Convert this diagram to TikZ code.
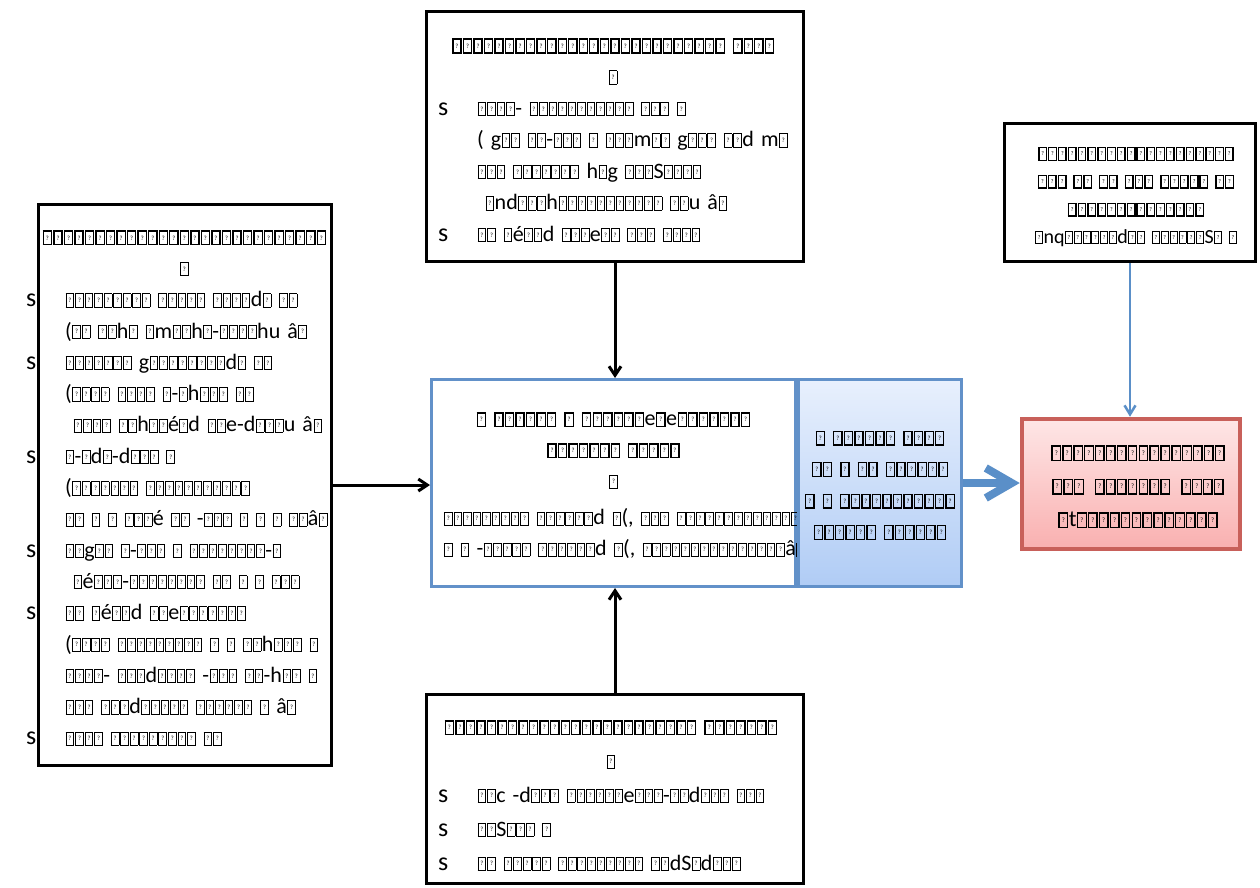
\documentclass[tikz,border=0pt]{standalone}
\usepackage{fontspec}
\setmainfont{Carlito}
\usetikzlibrary{arrows.meta,shadows}

\definecolor{bord}{RGB}{98,145,201}
\definecolor{bluetop}{RGB}{232,240,253}
\definecolor{bluebot}{RGB}{176,204,245}
\definecolor{redbord}{RGB}{200,96,90}
\definecolor{redtop}{RGB}{254,230,230}
\definecolor{redbot}{RGB}{249,176,176}
\definecolor{arrblue}{RGB}{90,143,200}

\newlength\qbrule
\setlength\qbrule{0.85pt}
\newlength\qbt
\newcommand\qb{\begingroup\setlength\qbt{0.29em}\kern0.023em\setlength\fboxsep{0pt}\setlength\fboxrule{\qbrule}\fbox{\vbox to 0.564em{\vss\hbox to 0.31em{\hss\mdseries\fontsize{\the\qbt}{\the\qbt}\selectfont ?\hss}\vss}}\kern0.023em\endgroup}

\ExplSyntaxOn
\NewDocumentCommand\gx{m}{
  \tl_set:Nn \l_tmpa_tl {#1}
  \tl_replace_all:Nnn \l_tmpa_tl {?} {\qb}
  \tl_use:N \l_tmpa_tl
}
\ExplSyntaxOff
\newcommand\gb[1]{{\setlength\qbrule{1.35pt}\gx{#1}}}
\newcommand\bul{{\fontsize{26}{26}\selectfont s}}

\tikzset{
  boxblack/.style={draw=black, line width=3pt, fill=white, inner sep=0pt},
  boxcenter/.style={draw=bord, line width=3pt, fill=white, inner sep=0pt},
  boxblue/.style={draw=bord, line width=3pt, top color=bluetop, bottom color=bluebot, inner sep=0pt},
  boxred/.style={draw=redbord, line width=4.5pt, top color=redtop, bottom color=redbot, inner sep=0pt,
    drop shadow={opacity=0.25, shadow xshift=2pt, shadow yshift=-2pt}},
  txtnw/.style={inner sep=0pt, anchor=north west},
  txtn/.style={inner sep=0pt, anchor=north},
  arrblack/.style={draw=black, line width=3pt, -{Straight Barb[length=9pt,width=12pt]}},
  arrthin/.style={draw=arrblue, line width=2.5pt, -{Straight Barb[length=9pt,width=11pt]}},
  arrthick/.style={draw=arrblue, line width=8pt, -{Straight Barb[length=26pt,width=30pt]}},
}

\begin{document}
\begin{tikzpicture}[x=1pt,y=-1pt]
\useasboundingbox (0,0) rectangle (1260,887);

% boxes
\node[boxblack, minimum width=377pt, minimum height=250pt] (topbox) at (615,136.5) {};
\node[boxblack, minimum width=293pt, minimum height=561pt] (leftbox) at (185,485) {};
\node[boxblack, minimum width=377pt, minimum height=189pt] (botbox) at (615,789) {};
\node[boxblack, minimum width=251pt, minimum height=138pt] (rtbox) at (1130,192.5) {};
\node[boxcenter, minimum width=364pt, minimum height=207pt] (cbox) at (613.5,483) {};

% top box text
\node[txtnw, font={\fontsize{22}{31.5}\selectfont\spaceskip=7pt\relax}] (toptext) at (438,30) {%
\begin{tabular}{@{}p{39pt}@{}l@{}}
\multicolumn{2}{c}{\gb{?????????????????????????? ????}}\\
\multicolumn{2}{c}{\gx{?}}\\
\bul & \gx{????-  ??????????? ??? ?}\\
 & \gx{( g?? ??-??? ? ???m?? g???  ??d m?}\\
 & \gx{??? ??????? h?g ???S????}\\
 & \hspace{8pt}\gx{?nd???h???????????  ??u â?}\\
\bul & \gx{?? ?é??d  ???e?? ??? ????}
\end{tabular}};

% left box text
\node[txtnw, font={\fontsize{22}{31.3}\selectfont\spaceskip=7pt\relax}] (lefttext) at (26,222) {%
\begin{tabular}{@{}p{39pt}@{}l@{}}
\multicolumn{2}{c}{\hspace{10pt}\gb{???????????????????????????}}\\
\multicolumn{2}{c}{\hspace{10pt}\gx{?}}\\
\bul & \gx{?????????  ?????  ????d? ??}\\
 & \gx{(??  ??h? ?m??h?-????hu â?}\\
\bul & \gx{??????? g????????d?  ??}\\
 & \gx{(???? ???? ?-?h???   ??}\\
 & \hspace{8pt}\gx{???? ??h??é?d  ??e-d???u â?}\\
\bul & \gx{?-?d?-d???  ?}\\
 & \gx{(???????   ???????????}\\
 & \gx{?? ? ?  ???é  ??  -??? ? ? ?  ??â?}\\
\bul & \gx{??g?? ?-??? ? ????????-?}\\
 & \hspace{8pt}\gx{?é???-???????? ?? ? ?  ???}\\
\bul & \gx{?? ?é??d  ??e???????}\\
 & \gx{(???? ????????? ? ?  ??h??? ?}\\
 & \gx{????-  ???d???? -??? ??-h?? ?}\\
 & \gx{??? ???d????? ?????? ? â?}\\
\bul & \gx{???? ????????? ??}
\end{tabular}};

% bottom box text
\node[txtnw, font={\fontsize{22}{34}\selectfont\spaceskip=7pt\relax}] (bottext) at (438,710) {%
\begin{tabular}{@{}p{39pt}@{}l@{}}
\multicolumn{2}{c}{\gb{???????????????????????? ???????}}\\
\multicolumn{2}{c}{\gx{?}}\\
\bul & \gx{??c  -d???  ??????e???-??d???  ???}\\
\bul & \gx{??S??? ?}\\
\bul & \gx{?? ?????  ?????????  ??dS?d???}
\end{tabular}};

% right top box text
\node[txtn, font={\fontsize{20}{27.8}\selectfont\spaceskip=6pt\relax}] (rttext) at (1136,140) {%
\begin{tabular}{@{}c@{}}
\gb{????????????????????}\\
\gb{??? ?? ?? ??? ????? ??}\\
\gb{??????????????}\\
\gx{?nq??????d??  ??????S? ?}
\end{tabular}};

% center text
\node[txtn, font={\fontsize{22}{31}\selectfont\spaceskip=7pt\relax}] (ctext) at (613.5,404) {%
\begin{tabular}{@{}c@{}}
\gb{? ?????? ? ??????e?e???????}\\
\gb{??????? ?????}\\
\gx{?}\\[6pt]
\makebox[340pt][l]{\gx{?????????  ??????d ?(, ??? ????????????????}}\\
\makebox[340pt][l]{\gx{? ?  -?????  ??????d ?(, ???????????????â?}}
\end{tabular}};

% blue box and text
\node[boxblue, minimum width=163pt, minimum height=207pt] (bluebox) at (880,483) {};
\node[txtn, font={\fontsize{22}{31.5}\selectfont\spaceskip=7pt\relax}] (bluetext) at (880,422) {%
\begin{tabular}{@{}c@{}}
\gb{? ?????? ????}\\
\gb{?? ? ?? ??????}\\
\gb{? ?  ???????????}\\
\gb{?????? ??????}
\end{tabular}};

% red box and text
\node[boxred, minimum width=218pt, minimum height=130pt] (redbox) at (1131,484) {};
\node[txtn, font={\fontsize{23}{33.5}\selectfont\spaceskip=10pt\relax}] (redtext) at (1138,436) {%
\begin{tabular}{@{}c@{}}
\gb{????????????????}\\
\gb{???  ???????  ????}\\
\gb{?t?????????????}
\end{tabular}};

% connectors
\draw[arrblack] (topbox.south) -- (topbox.south |- cbox.north);
\draw[arrblack] (botbox.north) -- (botbox.north |- cbox.south);
\draw[arrblack] (leftbox.east) -- (leftbox.east -| cbox.west);
\draw[arrthin] (rtbox.south) -- (rtbox.south |- redbox.north);
\draw[arrthick] (bluebox.east) -- (bluebox.east -| redbox.west);
\end{tikzpicture}
\end{document}
